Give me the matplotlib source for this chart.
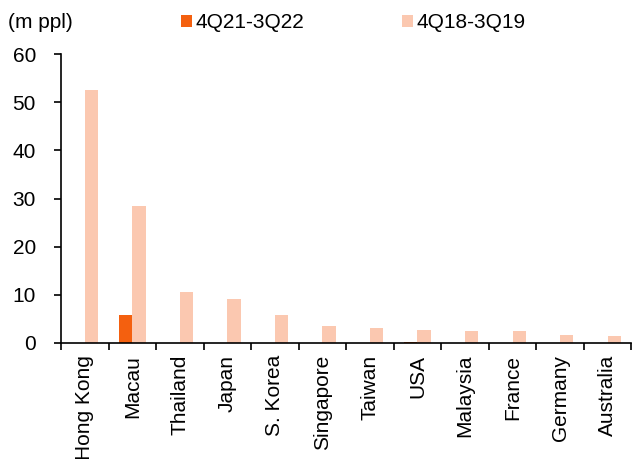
import numpy as np
import matplotlib
matplotlib.use('Agg')
from matplotlib import pyplot as plt

plt.rcParams['font.family'] = ['Liberation Sans', 'DejaVu Sans']

# data
paises = ['Hong Kong', 'Macau', 'Thailand', 'Japan', 'S. Korea', 'Singapore',
          'Taiwan', 'USA', 'Malaysia', 'France', 'Germany', 'Australia']
v_2122 = [0.05, 5.8, 0.05, 0.05, 0.05, 0.05, 0.05, 0.2, 0.05, 0.05, 0.05, 0.05]
v_1819 = [52.5, 28.4, 10.6, 9.2, 5.7, 3.5, 3.0, 2.7, 2.4, 2.4, 1.6, 1.4]

cor_escura = '#F4600F'
cor_clara = '#FBC8B0'
fs = 15

fig = plt.figure(figsize=(6.32, 4.59), dpi=100)
ax = fig.add_axes([0.0965, 0.253, 0.9025, 0.629])

x = np.arange(len(paises))
w = 0.28
ax.bar(x - w/2, v_2122, w, color=cor_escura, label='4Q21-3Q22')
ax.bar(x + w/2, v_1819, w, color=cor_clara, label='4Q18-3Q19')

ax.set_xlim(-0.5, len(paises) - 0.5)
ax.set_ylim(0, 60)
ax.set_yticks(range(0, 61, 10))
ax.set_xticks(x)
ax.set_xticklabels(paises, rotation=90, fontsize=fs)
ax.tick_params(axis='x', length=0, pad=8.5)
ax.set_xticks(np.arange(-0.5, len(paises)), minor=True)
ax.tick_params(axis='x', which='minor', length=5, width=1.2, direction='out')
ax.tick_params(axis='y', labelsize=fs, length=5, width=1.2, direction='out', pad=13)

for s in ['top', 'right']:
    ax.spines[s].set_visible(False)
for s in ['left', 'bottom']:
    ax.spines[s].set_linewidth(1.2)

fig.text(0.012, 0.95, '(m ppl)', fontsize=fs, va='center')
fig.legend(loc='center left', bbox_to_anchor=(0.286, 0.95), ncol=2, frameon=False,
           fontsize=fs, handlelength=0.55, handleheight=0.55, handletextpad=0.15,
           columnspacing=4.7, borderaxespad=0, borderpad=0)

plt.savefig('out.png', dpi=100)
